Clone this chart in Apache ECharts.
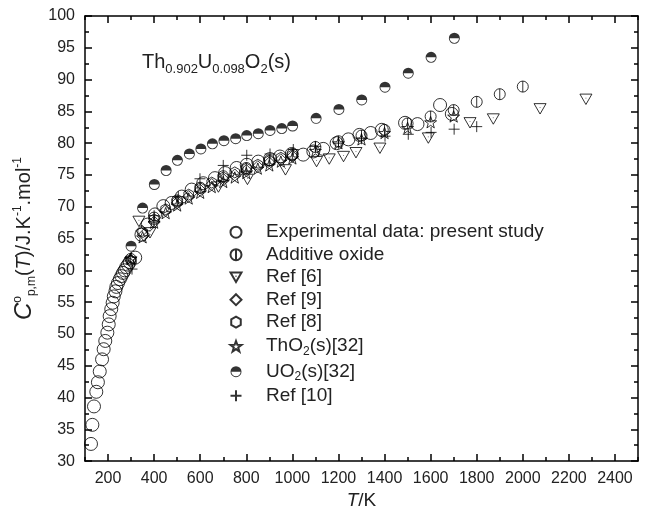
<!DOCTYPE html>
<html><head><meta charset="utf-8">
<script src="https://cdn.jsdelivr.net/npm/echarts@6/dist/echarts.min.js"></script>
<style>html,body{margin:0;padding:0;background:#fff}#c{width:654px;height:515px}</style>
</head><body><div id="c"></div>
<script>
// ---- data (T/K, Cp J/K/mol) ----
const experimental = [[126,32.7],[132,35.7],[139,38.6],[149,40.9],[156,42.4],[164,44.1],[174,46.0],[181,47.6],[188,48.9],[197,50.2],[203,51.5],[207,52.8],[214,53.9],[220,54.9],[225,55.9],[232,56.7],[236,57.4],[243,58.0],[251,58.6],[258,59.1],[265,59.6],[272,60.0],[279,60.5],[287,60.9],[294,61.3],[318,62.0],[345,65.6],[372,67.2],[404,68.8],[440,70.1],[476,70.6],[520,71.6],[563,72.7],[613,73.7],[664,74.5],[708,75.3],[758,76.1],[802,76.6],[852,77.1],[903,77.5],[946,77.9],[997,78.3],[1047,78.2],[1091,78.7],[1134,79.1],[1192,80.0],[1243,80.6],[1291,81.3],[1340,81.6],[1388,82.1],[1489,83.2],[1543,83.0],[1641,86.0],[1692,84.6]];
const additiveOxide = [[298,61.8],[400,68.3],[500,71.0],[600,73.0],[700,74.8],[800,76.1],[900,77.3],[1000,78.3],[1100,79.4],[1200,80.3],[1300,81.2],[1400,82.1],[1500,83.1],[1600,84.2],[1700,85.2],[1800,86.5],[1900,87.7],[2000,88.9]];
const ref6 = [[334,67.7],[382,65.9],[679,73.1],[805,74.3],[970,75.8],[1105,77.1],[1160,77.5],[1222,77.9],[1276,78.5],[1380,79.2],[1590,80.8],[1771,83.2],[1872,83.8],[2075,85.4],[2274,86.9]];
const ref9 = [[346,66.2],[356,65.6],[400,67.6],[450,69.4],[500,70.6],[550,71.6],[600,72.6],[650,73.5],[700,74.3],[750,75.0],[800,75.7],[850,76.3],[900,76.9],[950,77.4],[1000,77.9]];
const ref8 = [[300,61.5],[350,66.0],[400,68.0],[450,69.6],[500,70.8],[550,71.9],[600,72.9],[650,73.8],[700,74.6],[750,75.4],[800,76.0],[850,76.6],[900,77.2],[950,77.7],[1000,78.1]];
const tho2 = [[298,61.8],[300,61.9],[350,65.2],[400,67.5],[450,69.0],[500,70.2],[550,71.3],[600,72.2],[650,73.1],[700,73.9],[750,74.6],[800,75.3],[850,76.0],[900,76.5],[950,77.1],[1000,77.6],[1100,78.8],[1200,80.0],[1300,80.6],[1400,81.6],[1500,82.4],[1600,83.3],[1700,84.2]];
const uo2 = [[300,63.8],[350,69.8],[401,73.5],[452,75.7],[501,77.3],[553,78.3],[603,79.1],[653,79.9],[703,80.4],[754,80.7],[802,81.2],[852,81.5],[903,82.0],[954,82.3],[1001,82.7],[1103,83.9],[1202,85.3],[1301,86.8],[1402,88.8],[1503,91.0],[1602,93.5],[1703,96.5]];
const ref10 = [[304,60.2],[400,68.6],[505,71.6],[599,74.4],[700,76.5],[802,78.1],[903,78.3],[1004,79.0],[1100,79.5],[1200,80.0],[1300,80.7],[1402,81.1],[1503,81.4],[1602,81.7],[1702,82.2],[1800,82.6]];
const xMajorTicks = [200,400,600,800,1000,1200,1400,1600,1800,2000,2200,2400];
const xMinorTicks = [100,300,500,700,900,1100,1300,1500,1700,1900,2100,2300,2500];
const names = ['Experimental data: present study','Additive oxide','Ref [6]','Ref [9]','Ref [8]','ThO2(s)[32]','UO2(s)[32]','Ref [10]'];

const FONT = 'Liberation Sans, Arial, Helvetica, sans-serif';
const SYM = {
  circle: 'circle',
  additive: 'path://M10,0 A10,10 0 0 1 10,20 A10,10 0 0 1 10,0 Z M10,0 L10,20',
  triDown: 'path://M0,0 L20,0 L10,17.32 Z M10,6.2 L10,7.2',
  diamond: 'path://M10,0 L20,10 L10,20 L0,10 Z',
  hexagon: 'path://M10,0 L18.66,5 L18.66,15 L10,20 L1.34,15 L1.34,5 Z',
  star: 'path://M10,0 L12.35,6.76 L19.51,6.91 L13.80,11.24 L15.88,18.09 L10,14 L4.12,18.09 L6.20,11.24 L0.49,6.91 L7.65,6.76 Z',
  half: 'path://M0,10 A10,10 0 0 1 20,10 Z M0,10 A10,10 0 0 0 20,10 L18.4,10 A8.4,8.4 0 0 1 1.6,10 Z',
  plus: 'path://M10,0 L10,20 M0,10 L20,10'
};
const open = {color:'rgba(255,255,255,0)', borderColor:'#000', borderWidth:1};
function mk(name, data, symbol, size, style){
  return {name, type:'scatter', data, symbol, symbolSize:size, symbolKeepAspect:true,
    xAxisIndex:0, yAxisIndex:0, itemStyle: style || open, emphasis:{disabled:true}, z: 3};
}
const series = [
  mk(names[0], experimental, SYM.circle, 13),
  mk(names[1], additiveOxide, SYM.additive, 11),
  mk(names[2], ref6, SYM.triDown, 12),
  mk(names[3], ref9, SYM.diamond, 12),
  mk(names[4], ref8, SYM.hexagon, 11),
  mk(names[5], tho2, SYM.star, 12),
  mk(names[6], uo2, SYM.half, 11, {color:'#000', borderWidth:0}),
  mk(names[7], ref10, SYM.plus, 11)
];

const axisLine = {show:true, lineStyle:{color:'#000', width:1.5}};
const tickMajor = {show:true, inside:true, length:7, lineStyle:{color:'#000', width:1.5}};
const tickMinor = {show:true, inside:true, length:4, lineStyle:{color:'#000', width:1.5}};
const labelStyle = {color:'#222', fontSize:16, fontFamily:FONT};
const plain = v => String(v);

const chart = echarts.init(document.getElementById('c'), null, {renderer:'canvas'});
chart.setOption({
  animation:false,
  backgroundColor:'#fff',
  grid:{left:85, right:16, top:16, bottom:53, containLabel:false},
  xAxis:[
    {type:'value', min:100, max:2500, interval:100, position:'bottom', axisLine,
     axisTick:Object.assign({customValues:xMajorTicks}, tickMajor),
     axisLabel:Object.assign({customValues:xMajorTicks, margin:9, formatter:plain}, labelStyle),
     splitLine:{show:false},
     name:'{i|T}/K', nameLocation:'middle', nameGap:29,
     nameTextStyle:{fontSize:19, fontFamily:FONT, color:'#222', rich:{i:{fontStyle:'italic', fontSize:19, fontFamily:FONT, color:'#222'}}}},
    {type:'value', min:100, max:2500, interval:100, position:'bottom', axisLine:{show:false},
     axisTick:Object.assign({customValues:xMinorTicks}, tickMinor), axisLabel:{show:false}, splitLine:{show:false}},
    {type:'value', min:100, max:2500, interval:100, position:'top', axisLine,
     axisTick:Object.assign({customValues:xMajorTicks}, tickMajor), axisLabel:{show:false}, splitLine:{show:false}},
    {type:'value', min:100, max:2500, interval:100, position:'top', axisLine:{show:false},
     axisTick:Object.assign({customValues:xMinorTicks}, tickMinor), axisLabel:{show:false}, splitLine:{show:false}}
  ],
  yAxis:[
    {type:'value', min:30, max:100, interval:5, position:'left', axisLine, axisTick:tickMajor,
     minorTick:{show:true, splitNumber:2, length:4, lineStyle:{color:'#000', width:1.5}},
     axisLabel:Object.assign({margin:10, formatter:plain}, labelStyle), splitLine:{show:false}, minorSplitLine:{show:false},
     name:'{c|C}{sup|o}{sub|p,m}({i|T})/J.K{sup|-1}.mol{sup|-1}', nameLocation:'middle', nameGap:47, nameRotate:90,
     nameTextStyle:{fontSize:20, fontFamily:FONT, color:'#222', rich:{
        c:{fontStyle:'italic', fontSize:24, fontFamily:FONT, color:'#222'},
        i:{fontStyle:'italic', fontSize:20, fontFamily:FONT, color:'#222'},
        sup:{fontSize:12, fontFamily:FONT, color:'#222', padding:[0,0,14,0]},
        sub:{fontSize:12, fontFamily:FONT, color:'#222', padding:[14,0,0,0]}
     }}},
    {type:'value', min:30, max:100, interval:5, position:'right', axisLine, axisTick:tickMajor,
     minorTick:{show:true, splitNumber:2, length:4, lineStyle:{color:'#000', width:1.5}},
     axisLabel:{show:false}, splitLine:{show:false}}
  ],
  legend:{
    data:names, orient:'vertical', left:224.5, top:217.7, itemWidth:11, itemHeight:11, itemGap:3.5,
    selectedMode:false,
    formatter:function(n){
      if(n==='ThO2(s)[32]') return 'ThO{sub|2}(s)[32]';
      if(n==='UO2(s)[32]') return 'UO{sub|2}(s)[32]';
      return n;
    },
    textStyle:{fontSize:19, fontFamily:FONT, color:'#222', padding:[0,0,0,19.5], lineHeight:18,
      rich:{sub:{fontSize:12, fontFamily:FONT, color:'#222', padding:[10,0,0,0], lineHeight:8}}}
  },
  graphic:[{type:'text', left:142, top:52, style:{
    text:'Th{s|0.902}U{s|0.098}O{s|2}(s)', fontSize:20, fontFamily:FONT, fill:'#222',
    rich:{s:{fontSize:13, fontFamily:FONT, fill:'#222', padding:[14,0,0,0]}}}}],
  series
});
</script></body></html>
